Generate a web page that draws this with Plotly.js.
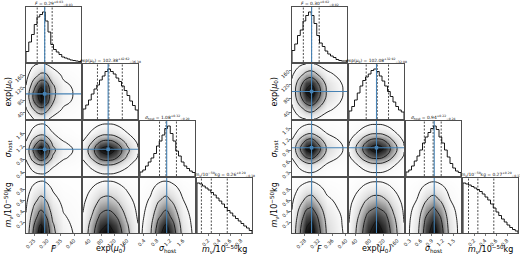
<!DOCTYPE html>
<html><head><meta charset="utf-8">
<script src="https://cdn.plot.ly/plotly-3.0.1.min.js"></script>
<style>html,body{margin:0;padding:0;background:#fff}#chart{width:520px;height:259px}</style>
</head><body><div id="chart"></div>
<script>
// ---------------- DATA ----------------
const paramNames = ['<i>F</i>', 'exp(<i>μ</i><sub>0</sub>)', '<i>σ</i><sub>host</sub>', '<i>m</i><sub>ν</sub>/10<sup>−50</sup>kg'];

// axis / histogram ranges per parameter
const rangeL = [[0.22, 0.426], [20, 195], [0.28, 1.97], [0, 1]];
const rangeR = [[0.243, 0.403], [20, 180], [0.2, 1.7], [0, 1]];

// tick values and labels
const tickValsL = [[0.25, 0.30, 0.35, 0.40], [40, 80, 120, 160], [0.4, 0.8, 1.2, 1.6], [0.2, 0.4, 0.6, 0.8]];
const tickTextL = [['0.25', '0.30', '0.35', '0.40'], ['40', '80', '120', '160'], ['0.4', '0.8', '1.2', '1.6'], ['0.2', '0.4', '0.6', '0.8']];
const tickValsR = [[0.28, 0.32, 0.36, 0.40], [40, 80, 120, 160], [0.3, 0.6, 0.9, 1.2, 1.5], [0.2, 0.4, 0.6, 0.8]];
const tickTextR = [['0.28', '0.32', '0.36', '0.40'], ['40', '80', '120', '160'], ['0.3', '0.6', '0.9', '1.2', '1.5'], ['0.2', '0.4', '0.6', '0.8']];

// 1D histograms (20 bins over the range), relative counts
const histL_F = [0.21,0.40,0.55,0.75,0.90,0.95,1.0,0.82,0.60,0.35,0.25,0.20,0.15,0.10,0.08,0.06,0.04,0.03,0.02,0.01];
const histL_M = [0.20,0.28,0.38,0.50,0.60,0.68,0.78,0.86,0.95,1.0,0.95,0.90,0.82,0.75,0.66,0.57,0.47,0.36,0.27,0.18];
const histL_S = [0.08,0.12,0.20,0.28,0.36,0.45,0.60,0.70,0.82,0.95,1.0,0.85,0.70,0.50,0.40,0.28,0.20,0.15,0.10,0.07];
const histL_N = [1.0,0.98,0.94,0.90,0.86,0.81,0.76,0.70,0.64,0.58,0.51,0.45,0.40,0.34,0.29,0.24,0.19,0.14,0.10,0.05];
const histR_F = [0.23,0.36,0.53,0.64,0.82,0.93,1.0,0.93,0.77,0.53,0.38,0.31,0.22,0.16,0.12,0.09,0.05,0.03,0.02,0.02];
const histR_M = [0.16,0.25,0.38,0.52,0.66,0.77,0.84,0.90,0.97,1.0,0.95,0.86,0.76,0.66,0.55,0.45,0.34,0.25,0.18,0.14];
const histR_S = [0.08,0.12,0.20,0.30,0.40,0.52,0.66,0.78,0.87,0.95,1.0,0.93,0.78,0.66,0.52,0.38,0.25,0.16,0.10,0.07];
const histR_N = [1.0,0.98,0.96,0.93,0.90,0.87,0.83,0.78,0.72,0.66,0.58,0.50,0.42,0.35,0.28,0.22,0.16,0.11,0.07,0.04];

// quantiles (16%, 50%, 84%)
const quantL = [[0.262, 0.29, 0.318], [66.0, 102.38, 145.0], [0.88, 1.08, 1.40], [0.08, 0.26, 0.55]];
const quantR = [[0.276, 0.30, 0.322], [70.0, 102.08, 135.0], [0.70, 0.94, 1.16], [0.10, 0.27, 0.56]];

// truth values (blue lines); null = none
const truthL = [0.29, 100, 1.1, null];
const truthR = [0.30, 100, 0.97, null];

// 2D density grid coordinates per parameter
const gridL = [[0.22, 0.25, 0.275, 0.295, 0.32, 0.36, 0.426], [20, 50, 75, 100, 125, 160, 195], [0.28, 0.6, 0.85, 1.08, 1.3, 1.6, 1.97], [0, 0.15, 0.3, 0.45, 0.6, 0.8, 1.0]];
const gridR = [[0.243, 0.265, 0.285, 0.30, 0.315, 0.345, 0.403], [20, 50, 75, 100, 125, 150, 180], [0.2, 0.5, 0.75, 0.95, 1.15, 1.4, 1.7], [0, 0.15, 0.3, 0.45, 0.6, 0.8, 1.0]];

// 2D densities: rows = y grid (bottom->top), cols = x grid
const densL_F_M = [
 [0.04,0.14,0.20,0.17,0.09,0.04,0.02],
 [0.11,0.39,0.55,0.47,0.25,0.11,0.04],
 [0.18,0.63,0.90,0.77,0.41,0.18,0.07],
 [0.20,0.70,1.00,0.85,0.45,0.20,0.08],
 [0.14,0.55,0.85,0.78,0.42,0.18,0.07],
 [0.07,0.28,0.43,0.42,0.24,0.10,0.04],
 [0.03,0.11,0.15,0.13,0.07,0.03,0.01]];
const densL_F_S = [
 [0.02,0.06,0.08,0.07,0.04,0.02,0.01],
 [0.07,0.25,0.35,0.30,0.16,0.07,0.03],
 [0.16,0.56,0.80,0.68,0.36,0.16,0.06],
 [0.20,0.70,1.00,0.85,0.45,0.20,0.08],
 [0.15,0.53,0.75,0.64,0.34,0.15,0.06],
 [0.06,0.21,0.30,0.26,0.14,0.06,0.02],
 [0.02,0.06,0.08,0.07,0.04,0.02,0.01]];
const densL_M_S = [
 [0.02,0.04,0.07,0.08,0.07,0.04,0.01],
 [0.07,0.19,0.32,0.35,0.30,0.16,0.05],
 [0.16,0.44,0.72,0.80,0.68,0.36,0.12],
 [0.20,0.55,0.90,1.00,0.85,0.45,0.15],
 [0.15,0.41,0.68,0.75,0.64,0.34,0.11],
 [0.06,0.17,0.27,0.30,0.26,0.14,0.05],
 [0.02,0.04,0.07,0.08,0.07,0.04,0.01]];
const densL_F_N = [
 [0.20,0.70,1.00,0.85,0.45,0.20,0.08],
 [0.18,0.63,0.90,0.77,0.41,0.18,0.07],
 [0.15,0.53,0.75,0.64,0.34,0.15,0.06],
 [0.12,0.42,0.60,0.51,0.27,0.12,0.05],
 [0.09,0.32,0.45,0.38,0.20,0.09,0.04],
 [0.05,0.19,0.27,0.23,0.12,0.05,0.02],
 [0.02,0.06,0.08,0.07,0.04,0.02,0.01]];
const densL_M_N = [
 [0.20,0.55,0.90,1.00,0.85,0.45,0.15],
 [0.18,0.50,0.81,0.90,0.77,0.41,0.14],
 [0.15,0.41,0.68,0.75,0.64,0.34,0.11],
 [0.12,0.33,0.54,0.60,0.51,0.27,0.09],
 [0.09,0.25,0.41,0.45,0.38,0.20,0.07],
 [0.05,0.15,0.24,0.27,0.23,0.12,0.04],
 [0.02,0.04,0.07,0.08,0.07,0.04,0.01]];
const densL_S_N = [
 [0.08,0.35,0.80,1.00,0.75,0.30,0.08],
 [0.07,0.32,0.72,0.90,0.68,0.27,0.07],
 [0.06,0.26,0.60,0.75,0.56,0.23,0.06],
 [0.05,0.21,0.48,0.60,0.45,0.18,0.05],
 [0.04,0.16,0.36,0.45,0.34,0.14,0.04],
 [0.02,0.09,0.22,0.27,0.20,0.08,0.02],
 [0.01,0.03,0.06,0.08,0.06,0.02,0.01]];

const densR_F_M = [
 [0.03,0.09,0.14,0.15,0.12,0.05,0.01],
 [0.10,0.30,0.46,0.50,0.40,0.18,0.04],
 [0.17,0.51,0.78,0.85,0.68,0.30,0.07],
 [0.20,0.60,0.92,1.00,0.80,0.35,0.08],
 [0.17,0.51,0.78,0.85,0.68,0.30,0.07],
 [0.10,0.30,0.46,0.50,0.40,0.18,0.04],
 [0.03,0.09,0.14,0.15,0.12,0.05,0.01]];
const densR_F_S = [
 [0.01,0.04,0.06,0.06,0.05,0.02,0.00],
 [0.06,0.18,0.28,0.30,0.24,0.11,0.02],
 [0.16,0.47,0.72,0.78,0.62,0.27,0.06],
 [0.20,0.60,0.92,1.00,0.80,0.35,0.08],
 [0.15,0.45,0.69,0.75,0.60,0.26,0.06],
 [0.06,0.18,0.28,0.30,0.24,0.11,0.02],
 [0.01,0.04,0.06,0.06,0.05,0.02,0.00]];
const densR_M_S = [
 [0.01,0.03,0.05,0.06,0.05,0.03,0.01],
 [0.05,0.15,0.26,0.30,0.26,0.15,0.05],
 [0.12,0.39,0.66,0.78,0.66,0.39,0.12],
 [0.15,0.50,0.85,1.00,0.85,0.50,0.15],
 [0.11,0.38,0.64,0.75,0.64,0.38,0.11],
 [0.05,0.15,0.26,0.30,0.26,0.15,0.05],
 [0.01,0.03,0.05,0.06,0.05,0.03,0.01]];
const densR_F_N = [
 [0.20,0.60,0.92,1.00,0.80,0.35,0.08],
 [0.19,0.56,0.86,0.93,0.74,0.33,0.07],
 [0.16,0.49,0.75,0.82,0.66,0.29,0.07],
 [0.13,0.40,0.61,0.66,0.53,0.23,0.05],
 [0.10,0.29,0.44,0.48,0.38,0.17,0.04],
 [0.05,0.16,0.24,0.26,0.21,0.09,0.02],
 [0.01,0.04,0.06,0.07,0.06,0.02,0.01]];
const densR_M_N = [
 [0.15,0.50,0.85,1.00,0.85,0.50,0.15],
 [0.14,0.47,0.79,0.93,0.79,0.47,0.14],
 [0.12,0.41,0.70,0.82,0.70,0.41,0.12],
 [0.10,0.33,0.56,0.66,0.56,0.33,0.10],
 [0.07,0.24,0.41,0.48,0.41,0.24,0.07],
 [0.04,0.13,0.22,0.26,0.22,0.13,0.04],
 [0.01,0.04,0.06,0.07,0.06,0.04,0.01]];
const densR_S_N = [
 [0.06,0.30,0.78,1.00,0.75,0.30,0.06],
 [0.06,0.28,0.73,0.93,0.70,0.28,0.06],
 [0.05,0.25,0.64,0.82,0.62,0.25,0.05],
 [0.04,0.20,0.51,0.66,0.50,0.20,0.04],
 [0.03,0.14,0.37,0.48,0.36,0.14,0.03],
 [0.02,0.08,0.20,0.26,0.20,0.08,0.02],
 [0.00,0.02,0.05,0.07,0.05,0.02,0.00]];

// contour levels (relative density)
const contourStart = 0.135, contourEnd = 0.885, contourStep = 0.25;

// ---------------- ASSEMBLY ----------------
const corners = [
  {range: rangeL, tv: tickValsL, tt: tickTextL, hist: [histL_F, histL_M, histL_S, histL_N], q: quantL, truth: truthL, grid: gridL,
   dens: {'1,0': densL_F_M, '2,0': densL_F_S, '2,1': densL_M_S, '3,0': densL_F_N, '3,1': densL_M_N, '3,2': densL_S_N}},
  {range: rangeR, tv: tickValsR, tt: tickTextR, hist: [histR_F, histR_M, histR_S, histR_N], q: quantR, truth: truthR, grid: gridR,
   dens: {'1,0': densR_F_M, '2,0': densR_F_S, '2,1': densR_M_S, '3,0': densR_F_N, '3,1': densR_M_N, '3,2': densR_S_N}}
];

const W = 520, H = 259, PS = 55, PITCH = 57, ROW0 = 7;
const CX0 = [26, 292];
const YLABX = [8, 274];
const XLABY = 249;
const FONT = 'DejaVu Sans, Arial, sans-serif';
const BLUE = '#4682b4';
const TICKSIZE = 5, TITLESIZE = 4.4, LABELSIZE = 8;

const traces = [], shapes = [], annotations = [];
const layout = {
  width: W, height: H, margin: {l: 0, r: 0, t: 0, b: 0}, showlegend: false,
  paper_bgcolor: '#fff', plot_bgcolor: '#fff', font: {family: FONT, color: '#000', size: 8}
};

const gray = [[0, '#ffffff'], [0.15, '#f8f8f8'], [0.3, '#e2e2e2'], [0.45, '#b8b8b8'], [0.6, '#858585'], [0.75, '#4a4a4a'], [0.9, '#1a1a1a'], [1, '#000000']];
let n = 0;
corners.forEach((C, ci) => {
  for (let r = 0; r < 4; r++) {
    for (let k = 0; k <= r; k++) {
      n++;
      const xs = n === 1 ? '' : String(n);
      const xr = 'x' + xs, yr = 'y' + xs;
      const px0 = CX0[ci] + k * PITCH, py0 = ROW0 + r * PITCH;
      const xdom = [px0 / W, (px0 + PS) / W];
      const ydom = [1 - (py0 + PS) / H, 1 - py0 / H];
      const bottom = r === 3;
      layout['xaxis' + xs] = {
        domain: xdom, anchor: yr, range: C.range[k], showgrid: false, zeroline: false,
        showline: true, mirror: true, linecolor: '#222', linewidth: 0.8,
        ticks: bottom ? 'outside' : '', ticklen: 2, tickwidth: 0.6, tickcolor: '#222',
        showticklabels: bottom, tickmode: 'array', tickvals: C.tv[k], ticktext: C.tt[k],
        tickangle: -45, tickfont: {size: TICKSIZE, family: FONT, color: '#222'}, fixedrange: true
      };
      if (k === r) {
        const h = C.hist[k];
        const hmax = Math.max(...h);
        layout['yaxis' + xs] = {
          domain: ydom, anchor: xr, range: [0, hmax * 1.1], showgrid: false, zeroline: false,
          showline: true, mirror: true, linecolor: '#222', linewidth: 0.8,
          showticklabels: false, ticks: '', fixedrange: true
        };
        const [lo, hi] = C.range[k];
        const nb = h.length, bw = (hi - lo) / nb;
        const sx = [lo], sy = [0];
        for (let i = 0; i < nb; i++) { sx.push(lo + i * bw); sy.push(h[i]); }
        sx.push(hi); sy.push(h[nb - 1]);
        sx.push(hi); sy.push(0);
        traces.push({type: 'scatter', mode: 'lines', x: sx, y: sy, xaxis: xr, yaxis: yr,
          line: {color: '#000', width: 0.9, shape: 'hv'}, hoverinfo: 'skip'});
        C.q[k].forEach(v => shapes.push({type: 'line', xref: xr, yref: yr + ' domain', x0: v, x1: v, y0: 0, y1: 1,
          line: {color: '#000', width: 0.7, dash: '2px,1.5px'}}));
        if (C.truth[k] !== null) shapes.push({type: 'line', xref: xr, yref: yr + ' domain', x0: C.truth[k], x1: C.truth[k], y0: 0, y1: 1,
          line: {color: BLUE, width: 1.1}});
        const q = C.q[k];
        const txt = paramNames[k] + ' = ' + q[1].toFixed(2) + '<sup>+' + (q[2] - q[1]).toFixed(2) + '</sup><sub>−' + (q[1] - q[0]).toFixed(2) + '</sub>';
        annotations.push({xref: 'paper', yref: 'paper', x: (px0 + PS / 2) / W, y: 1 - (py0 - 3.3) / H,
          xanchor: 'center', yanchor: 'middle', text: txt, showarrow: false, font: {size: TITLESIZE, family: FONT, color: '#111'}});
      } else {
        layout['yaxis' + xs] = {
          domain: ydom, anchor: xr, range: C.range[r], showgrid: false, zeroline: false,
          showline: true, mirror: true, linecolor: '#222', linewidth: 0.8,
          ticks: k === 0 ? 'outside' : '', ticklen: 2, tickwidth: 0.6, tickcolor: '#222',
          showticklabels: k === 0, tickmode: 'array', tickvals: C.tv[r], ticktext: C.tt[r],
          tickangle: -45, tickfont: {size: TICKSIZE, family: FONT, color: '#222'}, fixedrange: true
        };
        const z = C.dens[r + ',' + k];
        traces.push({type: 'heatmap', x: C.grid[k], y: C.grid[r], z: z, xaxis: xr, yaxis: yr,
          colorscale: gray, zmin: 0, zmax: 1, zsmooth: 'best', showscale: false, hoverinfo: 'skip'});
        traces.push({type: 'contour', x: C.grid[k], y: C.grid[r], z: z, xaxis: xr, yaxis: yr,
          autocontour: false, contours: {coloring: 'none', start: contourStart, end: contourEnd, size: contourStep},
          line: {color: '#111', width: 0.9, smoothing: 1.3}, showscale: false, hoverinfo: 'skip'});
        const tx = C.truth[k], ty = C.truth[r];
        if (tx !== null) shapes.push({type: 'line', xref: xr, yref: yr + ' domain', x0: tx, x1: tx, y0: 0, y1: 1, line: {color: BLUE, width: 1.1}});
        if (ty !== null) shapes.push({type: 'line', xref: xr + ' domain', yref: yr, x0: 0, x1: 1, y0: ty, y1: ty, line: {color: BLUE, width: 1.1}});
        if (tx !== null && ty !== null) traces.push({type: 'scatter', mode: 'markers', x: [tx], y: [ty], xaxis: xr, yaxis: yr,
          marker: {color: BLUE, size: 3.5, symbol: 'square'}, hoverinfo: 'skip'});
      }
      if (bottom) {
        annotations.push({xref: 'paper', yref: 'paper', x: (px0 + PS / 2) / W, y: 1 - XLABY / H,
          xanchor: 'center', yanchor: 'middle', text: paramNames[k], showarrow: false, font: {size: LABELSIZE, family: FONT, color: '#000'}});
      }
      if (k === 0 && r > 0) {
        annotations.push({xref: 'paper', yref: 'paper', x: YLABX[ci] / W, y: 1 - (py0 + PS / 2) / H,
          xanchor: 'center', yanchor: 'middle', textangle: -90, text: paramNames[r], showarrow: false, font: {size: LABELSIZE, family: FONT, color: '#000'}});
      }
    }
  }
});
layout.shapes = shapes;
layout.annotations = annotations;
Plotly.newPlot('chart', traces, layout, {displayModeBar: false, staticPlot: true});
</script></body></html>
